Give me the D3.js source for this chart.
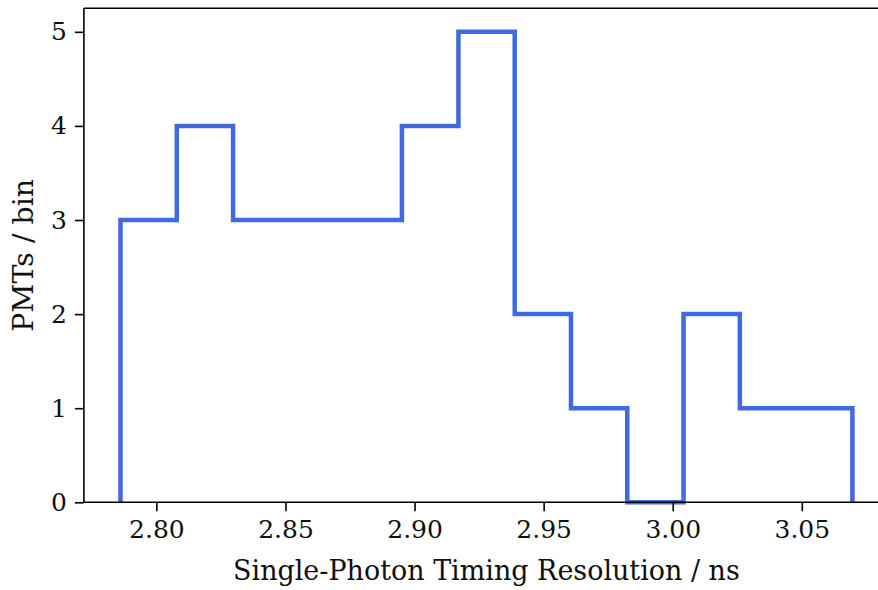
<!DOCTYPE html>
<html>
<head>
<meta charset="utf-8">
<script src="https://cdn.jsdelivr.net/npm/d3@7"></script>
<style>
  html, body { margin: 0; padding: 0; background: #fff; }
  svg { display: block; }
</style>
</head>
<body>
<svg id="chart" width="878" height="590"></svg>
<script>
// ---- data ----
const binEdges = [2.7861, 2.8079, 2.8297, 2.8515, 2.8733, 2.8951, 2.9170,
                  2.9388, 2.9606, 2.9824, 3.0042, 3.0260, 3.0478, 3.0696];
const counts = [3, 4, 3, 3, 3, 4, 5, 2, 1, 0, 2, 1, 1];
const xTicks = [2.80, 2.85, 2.90, 2.95, 3.00, 3.05];
const yTicks = [0, 1, 2, 3, 4, 5];
const xLabel = "Single-Photon Timing Resolution / ns";
const yLabel = "PMTs / bin";

// ---- layout ----
const FONT = "'DejaVu Serif', serif";
const svg = d3.select("#chart");
const mLeft = 83.9, mRight = 889, mTop = 8.3, mBottom = 502.3;

const xMin = d3.min(binEdges), xMax = d3.max(binEdges);
const pad = (xMax - xMin) * 0.05;
const x = d3.scaleLinear().domain([xMin - pad, xMax + pad]).range([mLeft, mRight]);
const y = d3.scaleLinear().domain([0, d3.max(counts) * 1.05]).range([mBottom, mTop]);

// step path
const pts = [[binEdges[0], 0]];
counts.forEach((c, i) => { pts.push([binEdges[i], c]); pts.push([binEdges[i + 1], c]); });
pts.push([binEdges[binEdges.length - 1], 0]);
const line = d3.line().x(d => x(d[0])).y(d => y(d[1]));

svg.append("path")
  .attr("d", line(pts))
  .attr("fill", "none")
  .attr("stroke", "#4169e1")
  .attr("stroke-width", 4.5)
  .attr("stroke-linejoin", "miter")
  .attr("stroke-linecap", "butt");

// axes
const tickFont = 25;
const xAxis = d3.axisBottom(x).tickValues(xTicks).tickFormat(d3.format(".2f"))
  .tickSizeInner(9).tickSizeOuter(0).tickPadding(9);
const gx = svg.append("g").attr("transform", `translate(0,${mBottom})`).call(xAxis)
  .attr("font-family", FONT);
gx.select(".domain").remove();
gx.selectAll(".tick line").attr("stroke", "#000").attr("stroke-width", 1.6);
gx.selectAll(".tick text").attr("font-size", tickFont).attr("font-family", FONT).attr("fill", "#111");

const yAxis = d3.axisLeft(y).tickValues(yTicks).tickFormat(d3.format("d"))
  .tickSizeInner(9).tickSizeOuter(0).tickPadding(8);
const gy = svg.append("g").attr("transform", `translate(${mLeft},0)`).call(yAxis)
  .attr("font-family", FONT);
gy.select(".domain").remove();
gy.selectAll(".tick line").attr("stroke", "#000").attr("stroke-width", 1.6);
gy.selectAll(".tick text").attr("font-size", tickFont).attr("font-family", FONT).attr("fill", "#111");

// spines
const sp = svg.append("g").attr("stroke", "#000").attr("stroke-width", 1.6).attr("fill", "none");
sp.append("line").attr("x1", mLeft).attr("x2", mLeft).attr("y1", mTop).attr("y2", mBottom);
sp.append("line").attr("x1", mLeft).attr("x2", mRight).attr("y1", mBottom).attr("y2", mBottom);
sp.append("line").attr("x1", mLeft).attr("x2", mRight).attr("y1", mTop).attr("y2", mTop);
sp.append("line").attr("x1", mRight).attr("x2", mRight).attr("y1", mTop).attr("y2", mBottom);

// labels
function fit(t, w) {
  const len = t.node().getComputedTextLength();
  const fs = parseFloat(t.attr("font-size"));
  t.attr("font-size", fs * w / len);
}
const xl = svg.append("text").attr("x", (mLeft + mRight) / 2).attr("y", 580)
  .attr("text-anchor", "middle").attr("font-size", 26).attr("font-family", FONT)
  .attr("fill", "#111").text(xLabel);
fit(xl, 507);
const yl = svg.append("text")
  .attr("transform", `translate(33,${(mTop + mBottom) / 2}) rotate(-90)`)
  .attr("text-anchor", "middle").attr("font-size", 26).attr("font-family", FONT)
  .attr("fill", "#111").text(yLabel);
fit(yl, 153);
</script>
</body>
</html>
